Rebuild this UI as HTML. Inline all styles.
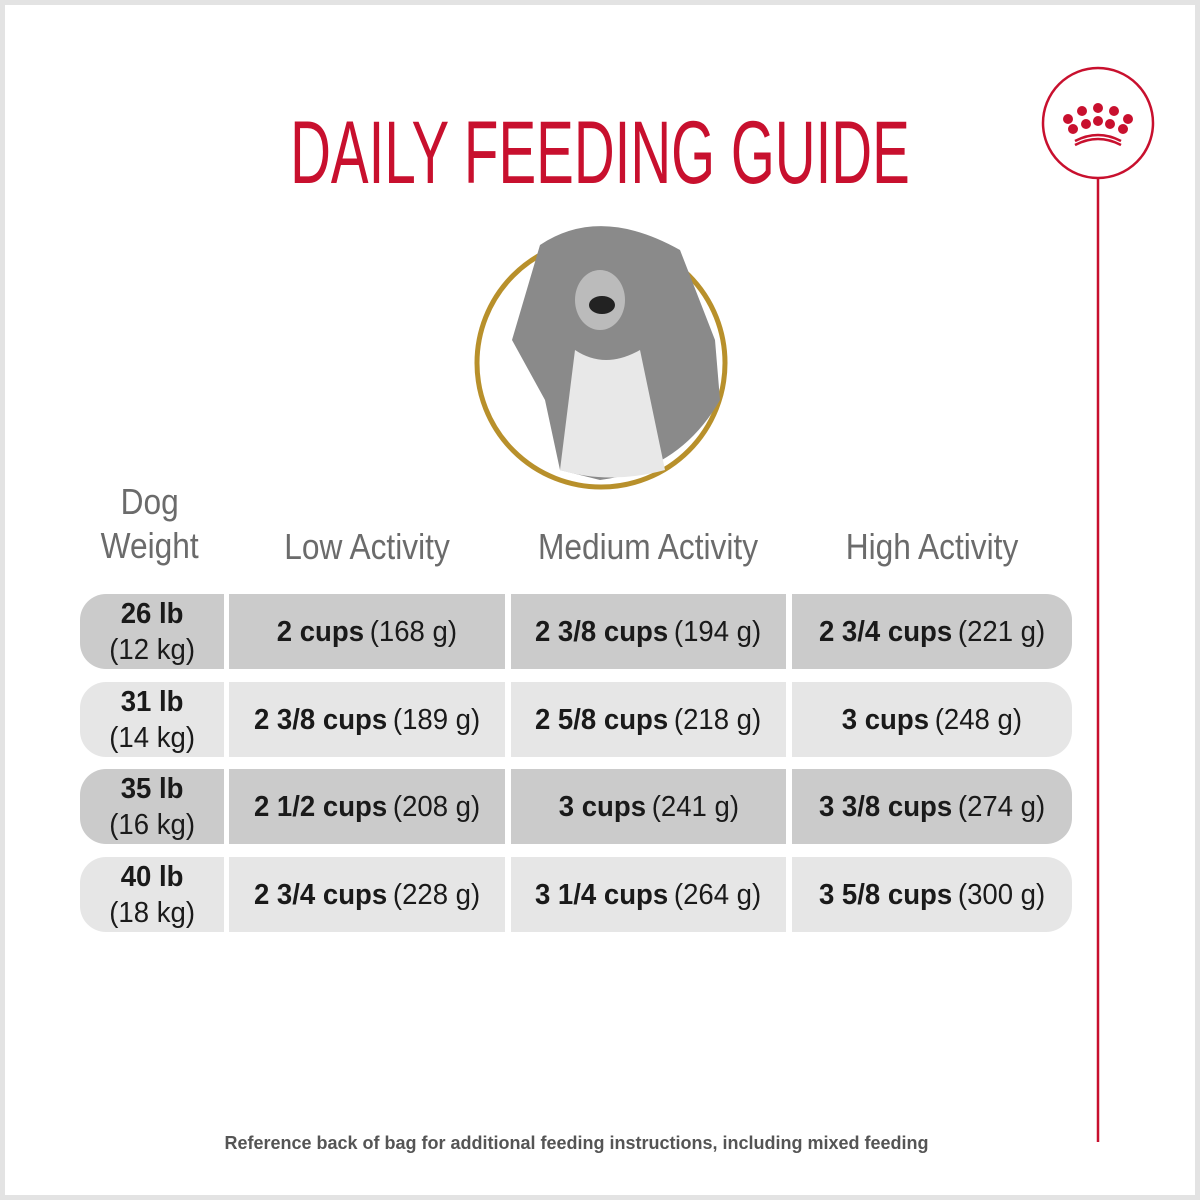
<!DOCTYPE html><html><head><style>
body{margin:0;width:1200px;height:1200px;background:#fff;position:relative;font-family:"Liberation Sans",sans-serif;overflow:hidden}
.frame{position:absolute;left:0;top:0;width:1190px;height:1190px;border:5px solid #e3e3e3}
.t{position:absolute;left:0;width:1200px;text-align:center;top:97px;font-size:89px;color:#c8102e;line-height:110px}
.t span{display:inline-block;transform:scaleX(0.635)}
.h{position:absolute;color:#6b6b6b;font-size:36px;text-align:center;line-height:44px}
.h span{display:inline-block;transform:scaleX(0.88)}
.c{position:absolute;display:flex;align-items:center;justify-content:center;font-size:29px;color:#1a1a1a;text-align:center;line-height:36px}
.c>span{display:inline-block;transform:scaleX(0.95);white-space:nowrap}
.c b{font-weight:bold;margin-right:6px}
.d{background:#cbcbcb}.l{background:#e6e6e6}
.foot{position:absolute;top:1133px;left:0;width:1153px;text-align:center;font-weight:bold;font-size:18px;color:#555}
</style></head><body>
<div class="frame"></div>
<div class="t"><span>DAILY FEEDING GUIDE</span></div>
<svg width="1200" height="1200" style="position:absolute;left:0;top:0">
<circle cx="1098" cy="123" r="55" fill="#fff" stroke="#c8102e" stroke-width="2.5"/>
<line x1="1098" y1="178" x2="1098" y2="1142" stroke="#c8102e" stroke-width="2.5"/>
<g fill="#c8102e"><circle cx="1082" cy="111" r="5"/><circle cx="1098" cy="108" r="5"/><circle cx="1114" cy="111" r="5"/><circle cx="1068" cy="119" r="5"/><circle cx="1128" cy="119" r="5"/><circle cx="1073" cy="129" r="5"/><circle cx="1086" cy="124" r="5"/><circle cx="1098" cy="121" r="5"/><circle cx="1110" cy="124" r="5"/><circle cx="1123" cy="129" r="5"/></g>
<path d="M1075 141 Q1098 129 1121 141" stroke="#c8102e" stroke-width="2.5" fill="none"/>
<path d="M1075 145 Q1098 133 1121 145" stroke="#c8102e" stroke-width="2.5" fill="none"/>
<circle cx="601" cy="363" r="124" fill="#fff" stroke="#b8902b" stroke-width="5"/>
<path d="M540 245 Q600 205 680 250 L715 340 L720 400 Q680 470 600 480 L560 470 L545 400 L512 340 Z" fill="#8a8a8a"/>
<path d="M575 350 Q605 370 640 350 L665 470 Q610 485 560 470 Z" fill="#e8e8e8"/>
<ellipse cx="600" cy="300" rx="25" ry="30" fill="#bbb"/>
<ellipse cx="602" cy="305" rx="13" ry="9" fill="#222"/>
</svg>
<div class="h" style="left:80px;top:480px;width:140px"><span>Dog<br>Weight</span></div>
<div class="h" style="left:229px;top:525px;width:276px"><span>Low Activity</span></div>
<div class="h" style="left:511px;top:525px;width:275px"><span>Medium Activity</span></div>
<div class="h" style="left:792px;top:525px;width:280px"><span>High Activity</span></div>

<div class="c d" style="left:80px;top:594px;width:144px;height:75px;border-radius:26px 0 0 26px"><span><b style="margin:0">26 lb</b><br>(12 kg)</span></div>
<div class="c d" style="left:229px;top:594px;width:276px;height:75px"><span><b>2 cups</b>(168 g)</span></div>
<div class="c d" style="left:511px;top:594px;width:275px;height:75px"><span><b>2 3/8 cups</b>(194 g)</span></div>
<div class="c d" style="left:792px;top:594px;width:280px;height:75px;border-radius:0 26px 26px 0"><span><b>2 3/4 cups</b>(221 g)</span></div>

<div class="c l" style="left:80px;top:682px;width:144px;height:75px;border-radius:26px 0 0 26px"><span><b style="margin:0">31 lb</b><br>(14 kg)</span></div>
<div class="c l" style="left:229px;top:682px;width:276px;height:75px"><span><b>2 3/8 cups</b>(189 g)</span></div>
<div class="c l" style="left:511px;top:682px;width:275px;height:75px"><span><b>2 5/8 cups</b>(218 g)</span></div>
<div class="c l" style="left:792px;top:682px;width:280px;height:75px;border-radius:0 26px 26px 0"><span><b>3 cups</b>(248 g)</span></div>

<div class="c d" style="left:80px;top:769px;width:144px;height:75px;border-radius:26px 0 0 26px"><span><b style="margin:0">35 lb</b><br>(16 kg)</span></div>
<div class="c d" style="left:229px;top:769px;width:276px;height:75px"><span><b>2 1/2 cups</b>(208 g)</span></div>
<div class="c d" style="left:511px;top:769px;width:275px;height:75px"><span><b>3 cups</b>(241 g)</span></div>
<div class="c d" style="left:792px;top:769px;width:280px;height:75px;border-radius:0 26px 26px 0"><span><b>3 3/8 cups</b>(274 g)</span></div>

<div class="c l" style="left:80px;top:857px;width:144px;height:75px;border-radius:26px 0 0 26px"><span><b style="margin:0">40 lb</b><br>(18 kg)</span></div>
<div class="c l" style="left:229px;top:857px;width:276px;height:75px"><span><b>2 3/4 cups</b>(228 g)</span></div>
<div class="c l" style="left:511px;top:857px;width:275px;height:75px"><span><b>3 1/4 cups</b>(264 g)</span></div>
<div class="c l" style="left:792px;top:857px;width:280px;height:75px;border-radius:0 26px 26px 0"><span><b>3 5/8 cups</b>(300 g)</span></div>

<div class="foot">Reference back of bag for additional feeding instructions, including mixed feeding</div>
</body></html>
